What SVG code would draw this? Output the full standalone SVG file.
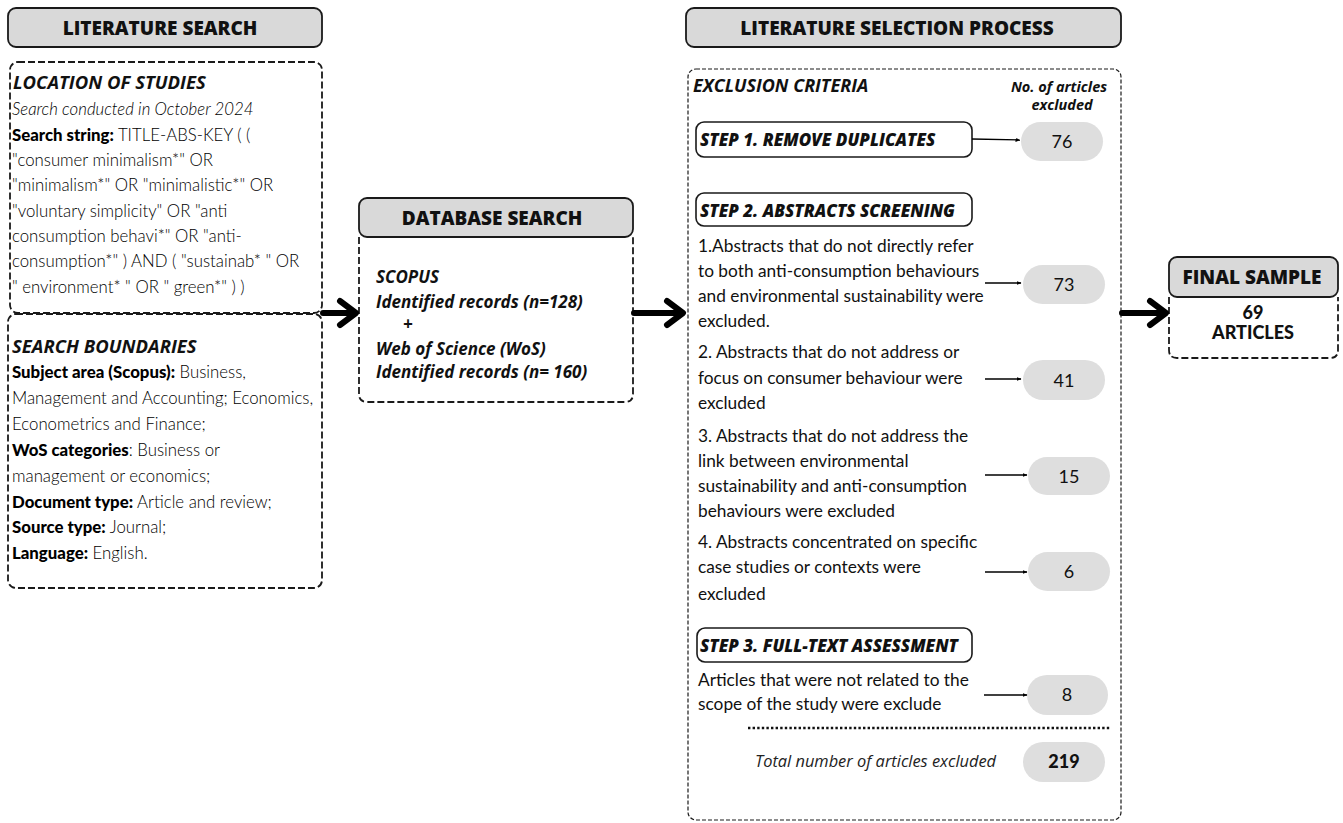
<svg xmlns="http://www.w3.org/2000/svg" width="1343" height="823" viewBox="0 0 1343 823">
<defs>
<style>
.hdr{fill:#d9d9d9;stroke:#1a1a1a;stroke-width:1.8}
.dash{fill:none;stroke:#1a1a1a;stroke-width:1.8;stroke-dasharray:7 3}
.fdash{fill:none;stroke:#1a1a1a;stroke-width:1.2;stroke-dasharray:4 2}
.step{fill:#fff;stroke:#1a1a1a;stroke-width:1.6}
.pill{fill:#dedede}
.ht{font-family:"Open Sans",sans-serif;font-weight:800;font-size:19px;fill:#111;text-anchor:middle}
.bi{font-family:"Open Sans",sans-serif;font-weight:700;font-style:italic;fill:#111}
.sec{font-size:18.5px}
.stp{font-size:17px;font-weight:800}
.db{font-size:17px}
.lt{font-family:Lato,sans-serif;font-weight:300;font-size:16.8px;fill:#000}
.b{font-weight:900;fill:#000}
.rg{font-family:Lato,sans-serif;font-weight:400;font-size:17.3px;fill:#111}
.num{font-family:Lato,sans-serif;font-weight:400;font-size:18px;fill:#111;text-anchor:middle}
.nb{font-family:Lato,sans-serif;font-weight:900;font-size:18px;fill:#111;text-anchor:middle}
.thick{fill:none;stroke:#000;stroke-width:6;stroke-linecap:round;stroke-linejoin:round}
.thin{fill:none;stroke:#000;stroke-width:1.3}
</style>
<marker id="ah" viewBox="0 0 10 10" refX="9" refY="5" markerWidth="5" markerHeight="5" orient="auto" markerUnits="userSpaceOnUse">
<path d="M0 1 L10 5 L0 9 Z" fill="#000"/>
</marker>
</defs>
<rect width="1343" height="823" fill="#fff"/>

<g id="literature-search">
<rect class="hdr" x="8" y="8" width="314" height="39" rx="8"/>
<text class="ht" x="160" y="35">LITERATURE SEARCH</text>
</g>

<g id="location-of-studies">
<rect class="dash" x="10" y="62" width="312" height="251" rx="8"/>
<text class="bi sec" x="13" y="89">LOCATION OF STUDIES</text>
<text class="lt" x="12" y="115" font-style="italic" font-size="14.7">Search conducted in October 2024</text>
<text class="lt" x="12" y="141"><tspan class="b">Search string:</tspan> TITLE-ABS-KEY ( (</text>
<text class="lt" x="12" y="166">"consumer minimalism*" OR</text>
<text class="lt" x="12" y="191">"minimalism*" OR "minimalistic*" OR</text>
<text class="lt" x="12" y="217">"voluntary simplicity" OR "anti</text>
<text class="lt" x="12" y="242">consumption behavi*" OR "anti-</text>
<text class="lt" x="12" y="267">consumption*" ) AND ( "sustainab* " OR</text>
<text class="lt" x="12" y="293">" environment* " OR " green*" ) )</text>
</g>

<g id="search-boundaries">
<rect class="dash" x="8" y="314" width="314" height="274" rx="8"/>
<text class="bi sec" x="12" y="353">SEARCH BOUNDARIES</text>
<text class="lt" x="12" y="378"><tspan class="b">Subject area (Scopus):</tspan> Business,</text>
<text class="lt" x="12" y="404">Management and Accounting; Economics,</text>
<text class="lt" x="12" y="430">Econometrics and Finance;</text>
<text class="lt" x="12" y="456"><tspan class="b">WoS categories</tspan>: Business or</text>
<text class="lt" x="12" y="482">management or economics;</text>
<text class="lt" x="12" y="508"><tspan class="b">Document type:</tspan> Article and review;</text>
<text class="lt" x="12" y="533"><tspan class="b">Source type:</tspan> Journal;</text>
<text class="lt" x="12" y="559"><tspan class="b">Language:</tspan> English.</text>
</g>

<g id="database-search">
<path class="dash" d="M359 237 V394 Q359 402 367 402 H625 Q633 402 633 394 V237"/>
<rect class="hdr" x="359" y="198" width="274" height="39" rx="8"/>
<text class="ht" x="492" y="225">DATABASE SEARCH</text>
<text class="bi db" x="376" y="283">SCOPUS</text>
<text class="bi db" x="376" y="308">Identified records (n=128)</text>
<text class="bi db" x="403" y="330">+</text>
<text class="bi db" x="376" y="355">Web of Science (WoS)</text>
<text class="bi db" x="376" y="378">Identified records (n= 160)</text>
</g>

<g id="selection-process">
<rect class="hdr" x="686" y="8" width="435" height="39" rx="8"/>
<text class="ht" x="897" y="35">LITERATURE SELECTION PROCESS</text>
<rect class="fdash" x="688" y="69" width="433" height="751" rx="8"/>
<text class="bi" x="693" y="92" font-size="18">EXCLUSION CRITERIA</text>
<text class="bi" x="1059" y="92" font-size="14.5" text-anchor="middle">No. of articles</text>
<text class="bi" x="1062" y="110" font-size="14.5" text-anchor="middle">excluded</text>
</g>

<g id="step1">
<rect class="step" x="696" y="122" width="276" height="35" rx="8"/>
<text class="bi stp" x="700" y="146">STEP 1. REMOVE DUPLICATES</text>
</g>
<g id="n76"><rect class="pill" x="1021" y="122" width="82" height="39" rx="19.5"/><text class="num" x="1062" y="148">76</text></g>

<g id="step2">
<rect class="step" x="696" y="193" width="276" height="33" rx="8"/>
<text class="bi stp" x="700" y="217">STEP 2. ABSTRACTS SCREENING</text>
</g>

<g id="criterion1">
<text class="rg" x="698" y="252">1.Abstracts that do not directly refer</text>
<text class="rg" x="698" y="277">to both anti-consumption behaviours</text>
<text class="rg" x="698" y="302">and environmental sustainability were</text>
<text class="rg" x="698" y="327">excluded.</text>
</g>
<g id="n73"><rect class="pill" x="1023" y="265" width="82" height="39" rx="19.5"/><text class="num" x="1064" y="291">73</text></g>

<g id="criterion2">
<text class="rg" x="698" y="358">2. Abstracts that do not address or</text>
<text class="rg" x="698" y="384">focus on consumer behaviour were</text>
<text class="rg" x="698" y="409">excluded</text>
</g>
<g id="n41"><rect class="pill" x="1023" y="360" width="82" height="40" rx="20"/><text class="num" x="1064" y="387">41</text></g>

<g id="criterion3">
<text class="rg" x="698" y="442">3. Abstracts that do not address the</text>
<text class="rg" x="698" y="467">link between environmental</text>
<text class="rg" x="698" y="492">sustainability and anti-consumption</text>
<text class="rg" x="698" y="517">behaviours were excluded</text>
</g>
<g id="n15"><rect class="pill" x="1028" y="457" width="82" height="38" rx="19"/><text class="num" x="1069" y="483">15</text></g>

<g id="criterion4">
<text class="rg" x="698" y="548">4. Abstracts concentrated on specific</text>
<text class="rg" x="698" y="573">case studies or contexts were</text>
<text class="rg" x="698" y="600">excluded</text>
</g>
<g id="n6"><rect class="pill" x="1028" y="552" width="82" height="39" rx="19.5"/><text class="num" x="1069" y="578">6</text></g>

<g id="step3">
<rect class="step" x="697" y="628" width="275" height="34" rx="8"/>
<text class="bi stp" x="700" y="652">STEP 3. FULL-TEXT ASSESSMENT</text>
</g>
<g id="criterion5">
<text class="rg" x="698" y="686">Articles that were not related to the</text>
<text class="rg" x="698" y="710">scope of the study were exclude</text>
</g>
<g id="n8"><rect class="pill" x="1027" y="675" width="81" height="40" rx="20"/><text class="num" x="1067" y="701">8</text></g>

<g id="total">
<line x1="748" y1="728" x2="1110" y2="728" stroke="#111" stroke-width="2.6" stroke-dasharray="2.4 2.2"/>
<text x="755" y="767" font-family="'Open Sans',sans-serif" font-style="italic" font-size="16.4" fill="#222">Total number of articles excluded</text>
<rect class="pill" x="1023" y="742" width="82" height="40" rx="20"/>
<text class="nb" x="1064" y="768">219</text>
</g>

<g id="final-sample">
<path class="dash" d="M1169 297 V350 Q1169 358 1177 358 H1330 Q1338 358 1338 350 V297"/>
<rect class="hdr" x="1169" y="257" width="169" height="40" rx="8"/>
<text class="ht" x="1252" y="284">FINAL SAMPLE</text>
<text class="nb" x="1253" y="319">69</text>
<text class="nb" x="1253" y="339">ARTICLES</text>
</g>

<g id="connectors">
<path class="thick" d="M323 313 H353 M340 301 L356 313 L340 325"/>
<path class="thick" d="M634 313 H681 M667 301 L683 313 L667 325"/>
<path class="thick" d="M1122 313 H1164 M1150 301 L1166 313 L1150 325"/>
<line class="thin" x1="972" y1="139" x2="1020" y2="140" marker-end="url(#ah)"/>
<line class="thin" x1="985" y1="283" x2="1021" y2="283" marker-end="url(#ah)"/>
<line class="thin" x1="985" y1="379" x2="1021" y2="379" marker-end="url(#ah)"/>
<line class="thin" x1="985" y1="475" x2="1027" y2="475" marker-end="url(#ah)"/>
<line class="thin" x1="985" y1="572" x2="1027" y2="572" marker-end="url(#ah)"/>
<line class="thin" x1="984" y1="695" x2="1027" y2="695" marker-end="url(#ah)"/>
</g>
</svg>
